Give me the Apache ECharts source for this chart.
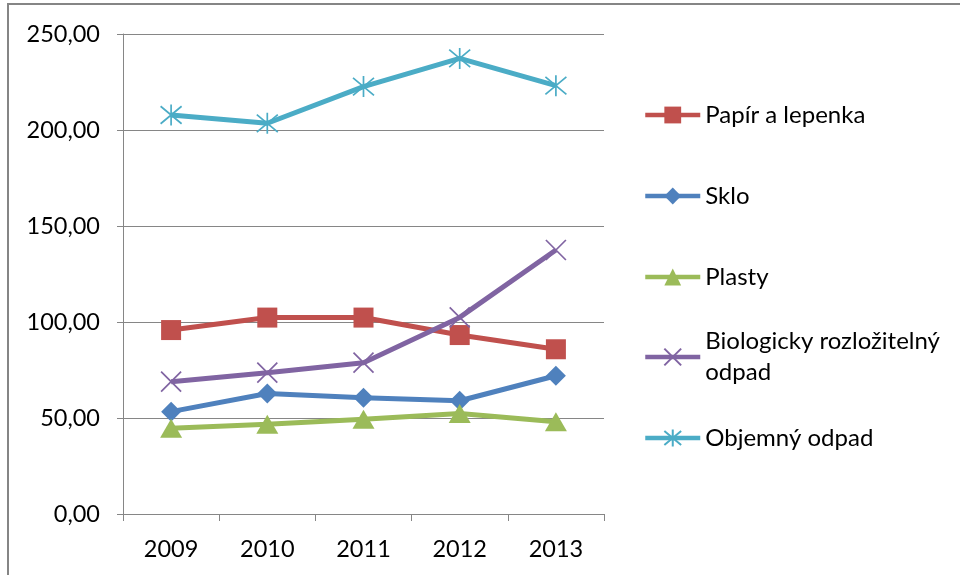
<!DOCTYPE html>
<html>
<head>
<meta charset="utf-8">
<script src="https://cdn.jsdelivr.net/npm/echarts@6/dist/echarts.min.js"></script>
<style>
html,body{margin:0;padding:0;background:#fff;}
#c{width:960px;height:575px;}
</style>
</head>
<body>
<div id="c"></div>
<script>
const years = ['2009', '2010', '2011', '2012', '2013'];
const papir = [95.8, 102.3, 102.3, 93.2, 85.8];
const sklo = [53.3, 62.8, 60.6, 59.0, 72.0];
const plasty = [44.6, 46.7, 49.3, 52.4, 48.1];
const bio = [68.9, 73.6, 78.8, 102.4, 137.5];
const objemny = [207.8, 203.5, 222.6, 237.3, 223.1];
const seriesNames = ['Papír a lepenka', 'Sklo', 'Plasty', 'Biologicky rozložitelný odpad', 'Objemný odpad'];
const legendLabels = ['Papír a lepenka', 'Sklo', 'Plasty', 'Biologicky rozložitelný\nodpad', 'Objemný odpad'];

const FONT = 'Lato';
const colors = ['#C0504D', '#4F81BD', '#9BBB59', '#8064A2', '#4BACC6'];
const symbols = ['rect', 'diamond', 'triangle', 'path://M0,0L10,10M10,0L0,10', 'path://M0,0L10,10M10,0L0,10M5,-1L5,11'];
const symbolSizes = [20, [20, 20], [22, 19], 20, 21];
const values = [papir, sklo, plasty, bio, objemny];
const legendCenters = [115, 196, 277, 357, 438];
const LH = 31;

const chart = echarts.init(document.getElementById('c'), null, {renderer: 'canvas'});

const series = seriesNames.map((n, i) => ({
  name: n,
  type: 'line',
  data: values[i],
  symbol: symbols[i],
  symbolSize: symbolSizes[i],
  showAllSymbol: true,
  lineStyle: {color: colors[i], width: 5},
  itemStyle: (i >= 3) ? {color: colors[i], borderColor: colors[i], borderWidth: 1.7} : {color: colors[i]},
  emphasis: {disabled: true},
  z: 2 + i
}));

const legends = seriesNames.map((n, i) => {
  const multi = legendLabels[i].indexOf('\n') >= 0;
  const h = multi ? LH * 3 : LH;
  return {
    show: true,
    orient: 'vertical',
    left: 643,
    top: legendCenters[i] - h / 2,
    padding: 0,
    itemWidth: 55,
    itemHeight: 21,
    data: [n],
    formatter: () => legendLabels[i],
    selectedMode: false,
    lineStyle: {width: 4.5},
    textStyle: {
      fontFamily: FONT, fontSize: 24, color: '#000', lineHeight: LH,
      padding: multi ? [LH, 0, 0, 0] : 0
    }
  };
});

chart.setOption({
  animation: false,
  backgroundColor: '#fff',
  grid: {left: 123, right: 356, top: 34, bottom: 61, containLabel: false},
  legend: legends,
  xAxis: {
    type: 'category',
    data: years,
    boundaryGap: true,
    axisLine: {lineStyle: {color: '#868686', width: 1}},
    axisTick: {show: true, length: 7, inside: false, lineStyle: {color: '#868686'}},
    axisLabel: {fontFamily: FONT, fontSize: 23.5, color: '#000', margin: 23},
    splitLine: {show: false}
  },
  yAxis: {
    type: 'value',
    min: 0, max: 250, interval: 50,
    axisLine: {show: true, lineStyle: {color: '#868686', width: 1}},
    axisTick: {show: true, length: 6, lineStyle: {color: '#868686'}},
    axisLabel: {
      fontFamily: FONT, fontSize: 23.5, color: '#000', margin: 23,
      formatter: v => v.toFixed(2).replace('.', ',')
    },
    splitLine: {show: true, lineStyle: {color: '#868686', width: 1}}
  },
  graphic: [{
    type: 'rect',
    shape: {x: 8, y: 4, width: 1000, height: 600},
    style: {fill: 'none', stroke: '#858585', lineWidth: 2},
    silent: true,
    z: 100
  }],
  series: series
});
</script>
</body>
</html>
